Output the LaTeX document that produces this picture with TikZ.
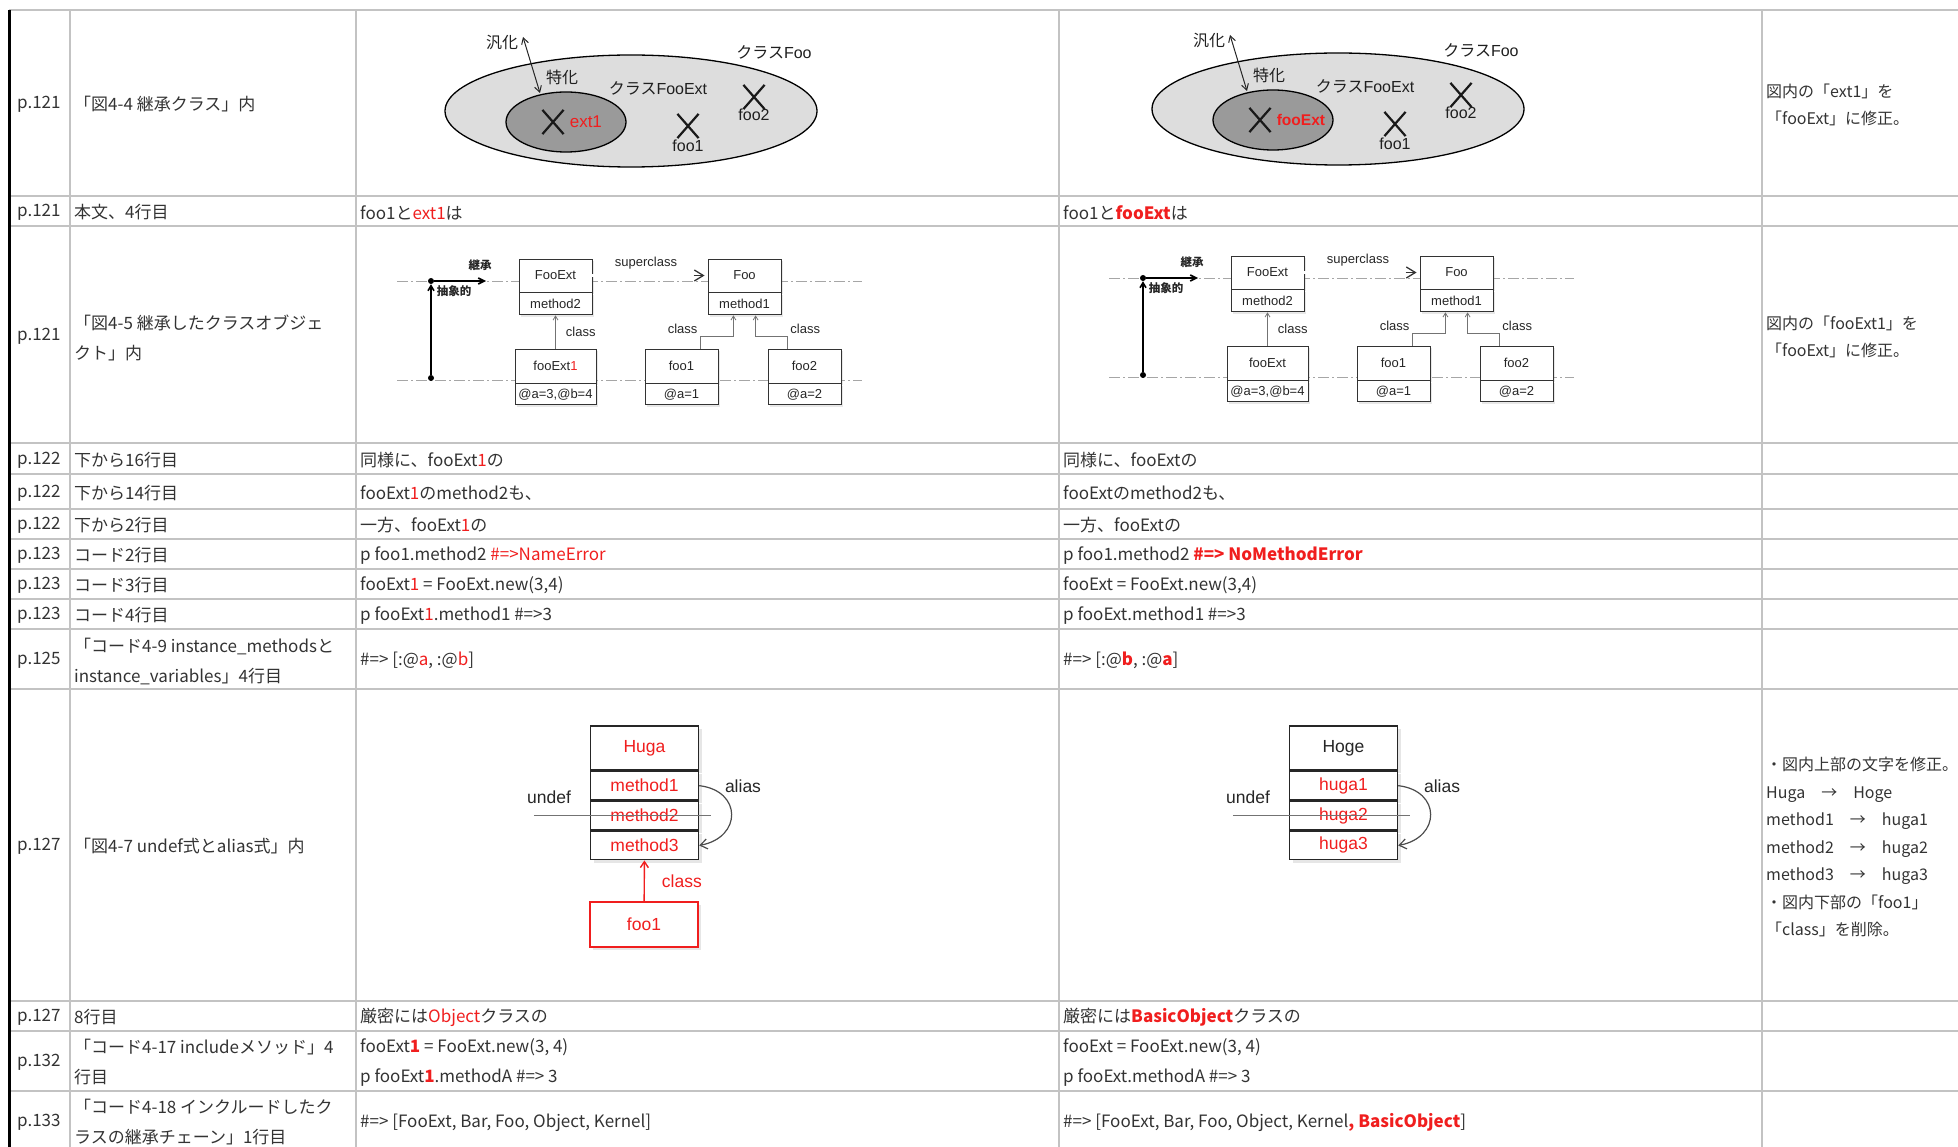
\documentclass[tikz,border=0pt]{standalone}
\usepackage{fontspec}
\setmainfont{Noto Sans CJK JP}
\newfontfamily\jpfont{Noto Sans CJK JP}
\newfontfamily\figfont{Liberation Sans}
\usetikzlibrary{arrows.meta,shapes.misc,shadows,positioning,calc}
\definecolor{gridc}{HTML}{C3C3C3}
\definecolor{txt}{HTML}{333333}
\definecolor{outerfill}{HTML}{DDDDDD}
\definecolor{innerfill}{HTML}{9A9A9A}
\definecolor{errred}{HTML}{F01E1E}
\newcommand{\rd}[1]{\textcolor{errred}{#1}}
\newcommand{\rdb}[1]{\textcolor{errred}{\bfseries #1}}

\tikzset{
  grid/.style={draw=gridc, line width=2.4},
  cell/.style={anchor=west, inner sep=0pt, text=txt, align=left, yshift=-1.5pt, font=\fontsize{17}{30}\selectfont},
  note/.style={cell, font=\fontsize{16}{27.5}\selectfont},
  lbl/.style={inner sep=0pt, text=black!88, font=\figfont\fontsize{16}{18}\selectfont},
  xmark/.style={cross out, draw=black!90, line width=2.2, minimum width=19, minimum height=22, inner sep=0pt},
  genarr/.style={black!85, line width=1, {Straight Barb[length=6pt,width=7pt]}-{Straight Barb[length=6pt,width=7pt]}},
  dashline/.style={draw=black!35, line width=0.9, dash pattern=on 11pt off 3pt on 2pt off 3pt},
  dot/.style={circle, fill=black, inner sep=0pt, minimum size=6},
  absarr/.style={black, line width=1.6, -{Straight Barb[length=5pt,width=6pt]}},
  inharr/.style={black, line width=1.6, -{Straight Barb[length=6pt,width=6pt]}},
  smalljp/.style={inner sep=0pt, text=black!85, font=\jpfont\bfseries\fontsize{11.5}{13}\selectfont},
  sm/.style={inner sep=0pt, text=black!85, font=\figfont\fontsize{13}{15}\selectfont},
  clsbox/.style={sm, draw=black!80, line width=0.9, fill=white, minimum width=73, inner sep=2pt,
    drop shadow={opacity=.18, shadow xshift=2pt, shadow yshift=-2pt}},
  supline/.style={draw=black!45, double=white, double distance=2.2pt, line width=0.7},
  suptip/.style={draw=black!80, line width=1.3, -{Straight Barb[length=9pt,width=11pt]}},
  clsarr/.style={draw=black!55, line width=0.8, -{Straight Barb[length=4pt,width=5pt]}},
  md/.style={inner sep=0pt, text=black!85, font=\figfont\fontsize{17.5}{20}\selectfont},
  hbox/.style={md, draw=black!85, line width=1.4, fill=white, minimum width=108,
    drop shadow={opacity=.2, shadow xshift=3pt, shadow yshift=-3pt}},
  redbox/.style={hbox, draw=errred, text=errred, minimum height=45},
  undefl/.style={draw=black!55, line width=1.3},
  aliasarr/.style={draw=black!70, line width=1.2, -{Straight Barb[length=7pt,width=10pt]}},
  redarr/.style={draw=errred, line width=1.4, -{Straight Barb[length=6pt,width=8pt]}}
}

\newcommand{\figfoo}[2]{%
  \draw[line width=1.3, fill=outerfill] (631,111) ellipse [x radius=186, y radius=56];
  \draw[line width=1.3, fill=innerfill] (566,122) ellipse [x radius=60, y radius=30];
  \node[xmark] (#1x0) at (553,122) {};
  \node[xmark] (#1x1) at (688,126) {};
  \node[xmark] (#1x2) at (754,97) {};
  \node[lbl, font=\figfont\fontsize{17}{19}\selectfont, right=6pt of #1x0] (#1inst) {#2};
  \node[lbl, below=2pt of #1x1] (#1f1) {foo1};
  \node[lbl, below=0pt of #1x2] (#1f2) {foo2};
  \node[lbl] (#1gen) at (502,42) {\jpfont 汎化};
  \node[lbl] (#1spe) at (562,77) {\jpfont 特化};
  \node[lbl] (#1cfe) at (658,88) {{\jpfont クラス}FooExt};
  \node[lbl] (#1cfoo) at (774,52) {{\jpfont クラス}Foo};
  \coordinate (#1up) at (523,37);
  \coordinate (#1dn) at (540,93);
  \draw[genarr] (#1up) -- (#1dn);
}

\newcommand{\figobj}[2]{%
  \draw[dashline] (397,281) -- (862,281);
  \draw[dashline] (397,380) -- (862,380);
  \node[dot] (#1top) at (431,281) {};
  \node[dot] (#1bot) at (431,378) {};
  \coordinate (#1inh) at (486,281);
  \draw[absarr] (#1bot) -- (#1top);
  \draw[inharr] (#1top) -- (#1inh);
  \node[smalljp] (#1inhl) at (480,265) {継承};
  \node[smalljp] (#1absl) at (454,291) {抽象的};
  \node[clsbox, minimum height=33] (#1c) at (555.5,275.5) {FooExt};
  \node[clsbox, minimum height=22, below=0pt of #1c] (#1cm) {method2};
  \node[clsbox, minimum height=33] (#1p) at (744.5,275.5) {Foo};
  \node[clsbox, minimum height=22, below=0pt of #1p] (#1pm) {method1};
  \node[clsbox, minimum width=81, minimum height=34] (#1i) at (555.5,366) {#2};
  \node[clsbox, minimum width=81, minimum height=21, below=0pt of #1i] (#1iv) {@a=3,@b=4};
  \node[clsbox, minimum height=34] (#1o1) at (681.5,366) {foo1};
  \node[clsbox, minimum height=21, below=0pt of #1o1] (#1o1v) {@a=1};
  \node[clsbox, minimum height=34] (#1o2) at (804.5,366) {foo2};
  \node[clsbox, minimum height=21, below=0pt of #1o2] (#1o2v) {@a=2};
  \draw[supline] (#1c.east) -- ([xshift=-8pt]#1p.west);
  \draw[suptip] ([xshift=-14pt]#1p.west) -- ([xshift=-3pt]#1p.west);
  \node[sm] (#1supl) at (646,263) {superclass};
  \draw[clsarr] (#1i) -- (#1cm) node[midway, right=10pt, sm] {class};
  \draw[clsarr] ($(#1o1.north)!.5!(#1o1.north east)$) -- ++(0,-12) node[above left=3pt, sm] {class} -| ($(#1pm.south)!.3!(#1pm.south west)$);
  \draw[clsarr] ($(#1o2.north)!.45!(#1o2.north west)$) -- ++(0,-12) node[above right=3pt, sm] {class} -| ($(#1pm.south)!.3!(#1pm.south east)$);
}

\newcommand{\figalias}[5]{%
  \node[hbox, minimum height=44] (#1t) at (644.5,748) {#2};
  \node[hbox, minimum height=28.5, below=0pt of #1t] (#1m1) {#3};
  \node[hbox, minimum height=28.5, below=0pt of #1m1] (#1m2) {#4};
  \node[hbox, minimum height=28.5, below=0pt of #1m2] (#1m3) {#5};
  \draw[undefl] ([xshift=-56pt]#1m2.west) -- ([xshift=12pt]#1m2.east);
  \node[md] (#1ud) at (549,797) {undef};
  \draw[aliasarr] (#1m1.east) .. controls +(43,5) and +(43,-8) .. (#1m3.east);
  \node[md] (#1al) at (743,786) {alias};
}

\begin{document}
\begin{tikzpicture}[x=1pt, y=-1pt]
\useasboundingbox (0,0) rectangle (1958,1147);
\foreach \y in {10,196,226,443,474,509,539,569,599,629,689,1001,1031,1091}
  \draw[grid] (9,\y) -- (1958,\y);
\foreach \x in {70,356,1059,1762}
  \draw[grid] (\x,10) -- (\x,1147);
\draw[line width=3] (9,10) -- (9,1147);

\foreach \n/\y/\p in {1/103/121, 2/211/121, 3/335/121, 4/458.5/122, 5/491.5/122, 6/524/122, 7/554/123,
    8/584/123, 9/614/123, 10/659/125, 11/845/127, 12/1016/127, 13/1061/132, 14/1121/133}
  \node[cell] (pg\n) at (17,\y) {p.\p};

\node[cell] (loc1) at (74,103) {「図4-4 継承クラス」内};
\node[cell] (loc2) at (74,211) {本文、4行目};
\node[cell] (loc3) at (74,336) {「図4-5 継承したクラスオブジェ\\クト」内};
\node[cell] (loc4) at (74,458.5) {下から16行目};
\node[cell] (loc5) at (74,491.5) {下から14行目};
\node[cell] (loc6) at (74,524) {下から2行目};
\node[cell] (loc7) at (74,554) {コード2行目};
\node[cell] (loc8) at (74,584) {コード3行目};
\node[cell] (loc9) at (74,614) {コード4行目};
\node[cell] (loc10) at (74,660) {「コード4-9 instance\_methodsと\\instance\_variables」4行目};
\node[cell] (loc11) at (74,845) {「図4-7 undef式とalias式」内};
\node[cell] (loc12) at (74,1016) {8行目};
\node[cell] (loc13) at (74,1061) {「コード4-17 includeメソッド」4\\行目};
\node[cell] (loc14) at (74,1121) {「コード4-18 インクルードしたク\\ラスの継承チェーン」1行目};

\node[cell] (old2) at (360,211) {foo1と\rd{ext1}は};
\node[cell] (old4) at (360,458.5) {同様に、fooExt\rd{1}の};
\node[cell] (old5) at (360,491.5) {fooExt\rd{1}のmethod2も、};
\node[cell] (old6) at (360,524) {一方、fooExt\rd{1}の};
\node[cell] (old7) at (360,554) {p foo1.method2 \rd{\#=>NameError}};
\node[cell] (old8) at (360,584) {fooExt\rd{1} = FooExt.new(3,4)};
\node[cell] (old9) at (360,614) {p fooExt\rd{1}.method1 \#=>3};
\node[cell] (old10) at (360,659) {\#=> [:@\rd{a}, :@\rd{b}]};
\node[cell] (old12) at (360,1016) {厳密には\rd{Object}クラスの};
\node[cell] (old13) at (360,1061) {fooExt\rdb{1} = FooExt.new(3, 4)\\p fooExt\rdb{1}.methodA \#=> 3};
\node[cell] (old14) at (360,1121) {\#=> [FooExt, Bar, Foo, Object, Kernel]};

\node[cell] (new2) at (1063,211) {foo1と\rdb{fooExt}は};
\node[cell] (new4) at (1063,458.5) {同様に、fooExtの};
\node[cell] (new5) at (1063,491.5) {fooExtのmethod2も、};
\node[cell] (new6) at (1063,524) {一方、fooExtの};
\node[cell] (new7) at (1063,554) {p foo1.method2 \rdb{\#=> NoMethodError}};
\node[cell] (new8) at (1063,584) {fooExt = FooExt.new(3,4)};
\node[cell] (new9) at (1063,614) {p fooExt.method1 \#=>3};
\node[cell] (new10) at (1063,659) {\#=> [:@\rdb{b}, :@\rdb{a}]};
\node[cell] (new12) at (1063,1016) {厳密には\rdb{BasicObject}クラスの};
\node[cell] (new13) at (1063,1061) {fooExt = FooExt.new(3, 4)\\p fooExt.methodA \#=> 3};
\node[cell] (new14) at (1063,1121) {\#=> [FooExt, Bar, Foo, Object, Kernel\rdb{, BasicObject}]};

\node[note] (note1) at (1766,103.5) {図内の「ext1」を\\「fooExt」に修正。};
\node[note] (note3) at (1766,335.5) {図内の「fooExt1」を\\「fooExt」に修正。};
\node[note] (note11) at (1766,845.5) {・図内上部の文字を修正。\\Huga　→　Hoge\\method1　→　huga1\\method2　→　huga2\\method3　→　huga3\\・図内下部の「foo1」\\「class」を削除。};

\figfoo{L}{\rd{ext1}}
\begin{scope}[shift={(707,-2)}]
\figfoo{R}{\fontsize{15.5}{18}\selectfont\rdb{fooExt}}
\end{scope}

\figobj{L}{fooExt\textcolor{errred}{1}}
\begin{scope}[shift={(712,-3)}]
\figobj{R}{fooExt}
\end{scope}

\figalias{L}{\rd{Huga}}{\rd{method1}}{\rd{method2}}{\rd{method3}}
\node[redbox, minimum width=108] (Lfoo) at (644,924.5) {foo1};
\draw[redarr] (Lfoo) -- (Lm3) node[midway, right=17pt, md, text=errred] {class};
\begin{scope}[shift={(699,0)}]
\figalias{R}{Hoge}{\rd{huga1}}{\rd{huga2}}{\rd{huga3}}
\end{scope}
\end{tikzpicture}
\end{document}
